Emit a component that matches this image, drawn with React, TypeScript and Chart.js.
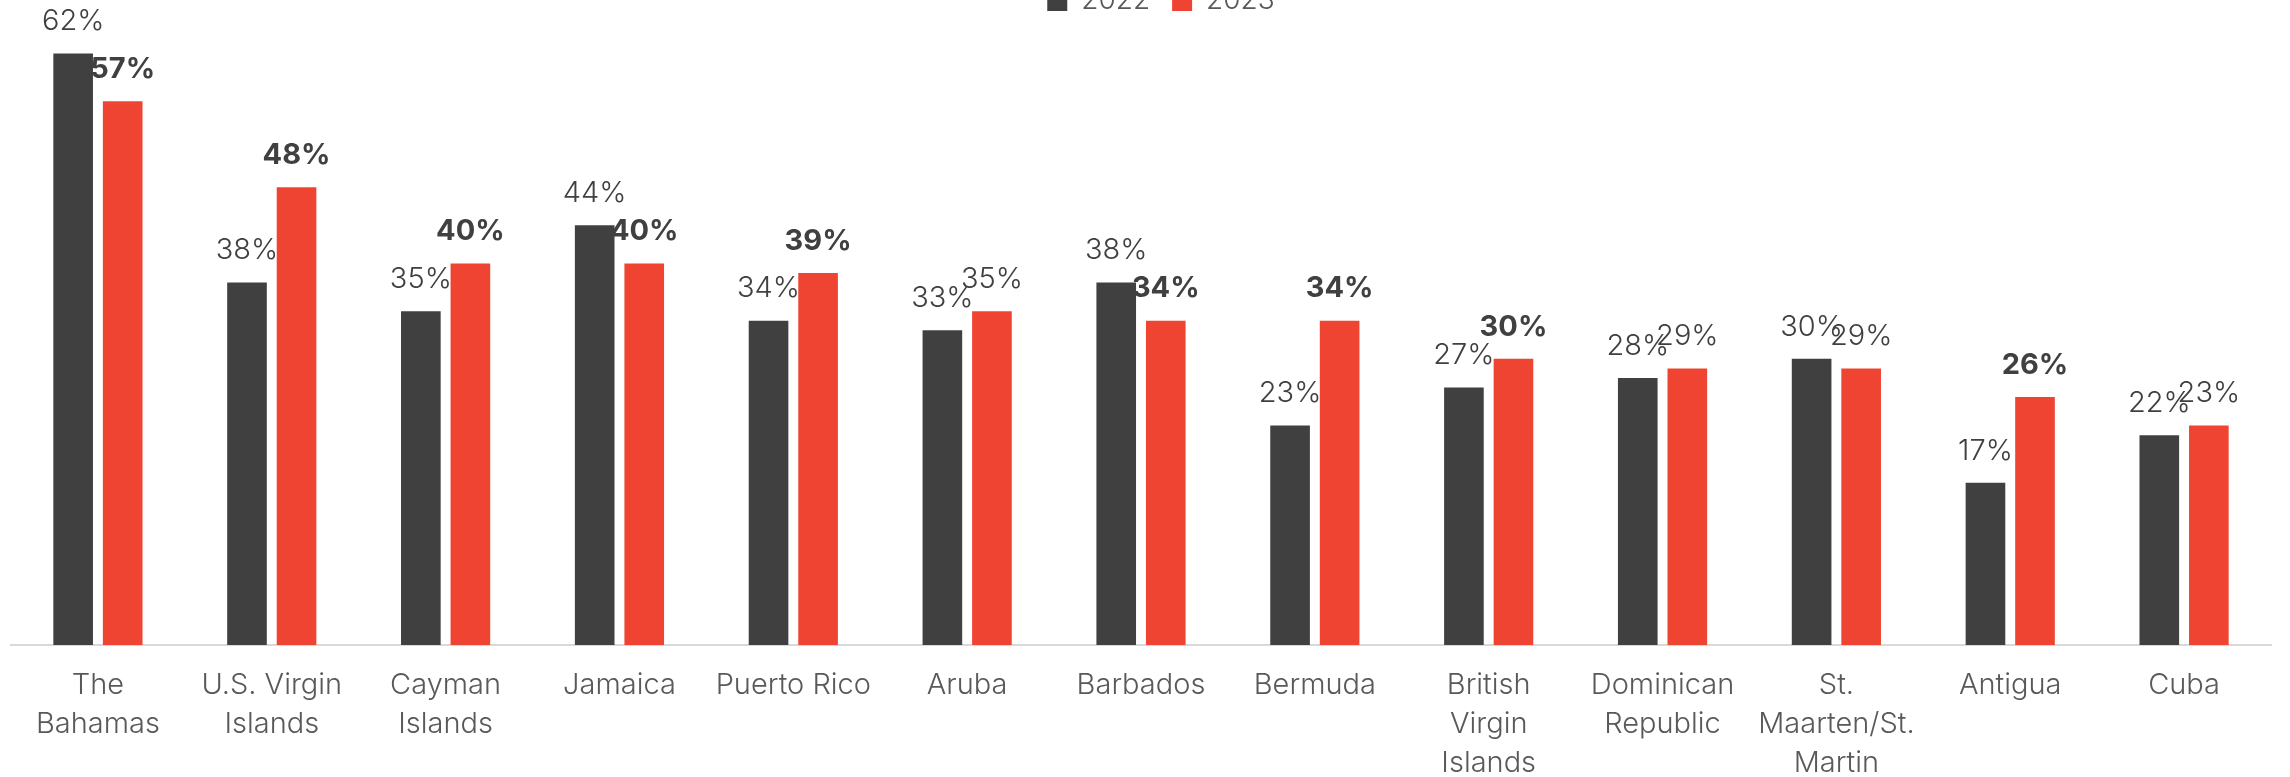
import React, { useEffect, useRef } from "react";
import { Chart, registerables } from "chart.js";

Chart.register(...registerables);

const categories: (string | string[])[] = [
  ["The", "Bahamas"],
  ["U.S. Virgin", "Islands"],
  ["Cayman", "Islands"],
  "Jamaica",
  "Puerto Rico",
  "Aruba",
  "Barbados",
  "Bermuda",
  ["British", "Virgin", "Islands"],
  ["Dominican", "Republic"],
  ["St.", "Maarten/St.", "Martin"],
  "Antigua",
  "Cuba",
];

const seriesNames = ["2022", "2023"];
const values2022 = [62, 38, 35, 44, 34, 33, 38, 23, 27, 28, 30, 17, 22];
const values2023 = [57, 48, 40, 40, 39, 35, 34, 34, 30, 29, 29, 26, 23];
const bold2023 = [true, true, true, true, true, false, true, true, true, false, false, true, false];

const FONT = "Inter, 'Noto Sans', sans-serif";
const DARK = "#404040";
const RED = "#EF4431";
const TEXT = "#595959";

const valueLabelPlugin = {
  id: "valueLabels",
  afterDatasetsDraw(chart: any) {
    const ctx = chart.ctx;
    ctx.save();
    chart.data.datasets.forEach((ds: any, di: number) => {
      const meta = chart.getDatasetMeta(di);
      meta.data.forEach((bar: any, i: number) => {
        const bold = di === 1 && bold2023[i];
        ctx.font = `${bold ? 700 : 300} 29px ${FONT}`;
        ctx.fillStyle = DARK;
        ctx.textAlign = "center";
        ctx.textBaseline = "middle";
        ctx.fillText(`${ds.data[i]}%`, bar.x, bar.y - 32);
      });
    });
    ctx.restore();
  },
};

const legendShiftPlugin = {
  id: "legendShift",
  afterLayout(chart: any) {
    if (chart.legend) {
      chart.legend.left += 20;
      chart.legend.right += 20;
    }
  },
};

export default function App() {
  const ref = useRef<HTMLCanvasElement>(null);

  useEffect(() => {
    if (!ref.current) return;
    const chart = new Chart(ref.current, {
      type: "bar",
      data: {
        labels: categories,
        datasets: [
          {
            label: seriesNames[0],
            data: values2022,
            backgroundColor: DARK,
            categoryPercentage: 0.57,
            barPercentage: 0.8,
          },
          {
            label: seriesNames[1],
            data: values2023,
            backgroundColor: RED,
            categoryPercentage: 0.57,
            barPercentage: 0.8,
          },
        ],
      },
      options: {
        responsive: false,
        animation: false,
        layout: { padding: { left: 11, right: 19, top: 0, bottom: 0 } },
        plugins: {
          legend: {
            display: true,
            position: "top",
            labels: {
              boxWidth: 20,
              boxHeight: 20,
              padding: 22,
              color: TEXT,
              font: { family: FONT, size: 28, weight: "300" },
            },
          },
          tooltip: { enabled: false },
        },
        scales: {
          x: {
            grid: { display: false, drawTicks: false },
            border: { display: true, color: "#D9D9D9", width: 2 },
            ticks: {
              color: TEXT,
              font: { family: FONT, size: 29, lineHeight: 1.345, weight: "300" },
              padding: 21,
              autoSkip: false,
              maxRotation: 0,
              minRotation: 0,
            },
          },
          y: {
            display: false,
            min: 0,
            max: 65,
          },
        },
      },
      plugins: [valueLabelPlugin, legendShiftPlugin],
    });
    return () => chart.destroy();
  }, []);

  return (
    <div
      style={{
        position: "fixed",
        left: 0,
        top: 0,
        width: 2290,
        height: 777,
        overflow: "hidden",
        background: "#ffffff",
      }}
    >
      <canvas
        ref={ref}
        width={2290}
        height={839}
        style={{ position: "absolute", left: 0, top: -35, width: 2290, height: 839 }}
      />
    </div>
  );
}
